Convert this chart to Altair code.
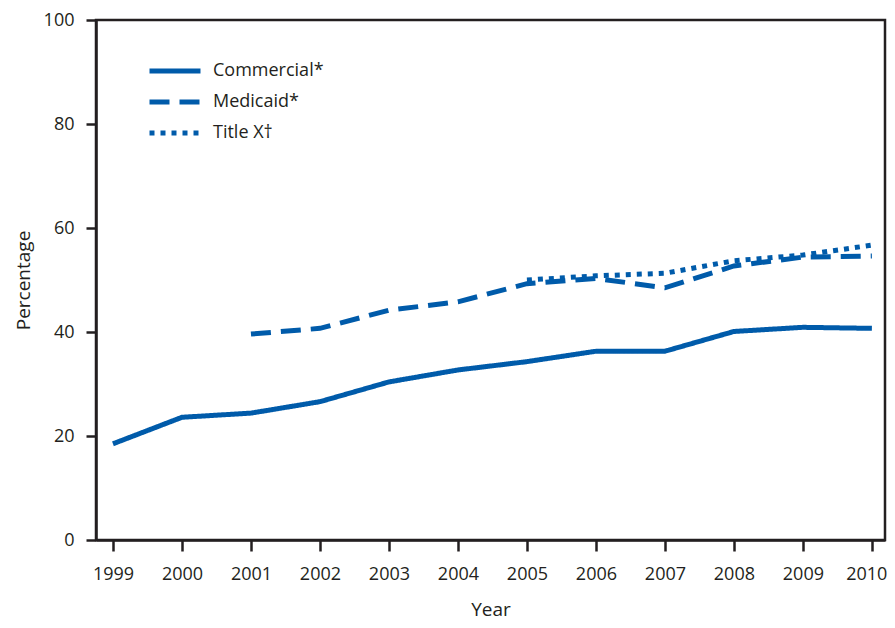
import altair as alt
import pandas as pd

years = list(range(1999, 2011))
commercial = [18.5, 23.6, 24.4, 26.6, 30.4, 32.7, 34.3, 36.3, 36.3, 40.1, 40.9, 40.7]
medicaid = [None, None, 39.6, 40.7, 44.2, 45.8, 49.3, 50.3, 48.5, 52.7, 54.4, 54.6]
title_x = [None, None, None, None, None, None, 50.0, 50.8, 51.3, 53.7, 54.8, 56.7]

series_names = ["Commercial*", "Medicaid*", "Title X\u2020"]
series_values = [commercial, medicaid, title_x]
dashes = [[1, 0], [20, 10], [5, 6]]

rows = []
for name, vals in zip(series_names, series_values):
    for yr, v in zip(years, vals):
        if v is not None:
            rows.append({"Year": yr, "Percentage": v, "Series": name})
df = pd.DataFrame(rows)

BLUE = "#005BAA"
DARK = "#231f20"
FONT = "Open Sans"

chart = alt.Chart(df).mark_line(strokeWidth=5, color=BLUE).encode(
    x=alt.X("Year:Q",
            scale=alt.Scale(domain=[1998.754, 2010.19], nice=False, zero=False),
            axis=alt.Axis(values=years, format="d", title="Year", grid=False,
                          tickSize=11, tickWidth=2.5, domainWidth=2.5,
                          domainColor=DARK, tickColor=DARK, labelPadding=14,
                          labelFlush=15, labelFlushOffset=15,
                          titlePadding=17)),
    y=alt.Y("Percentage:Q",
            scale=alt.Scale(domain=[0, 100], nice=False),
            axis=alt.Axis(values=[0, 20, 40, 60, 80, 100], title="Percentage", grid=False,
                          tickSize=10, tickWidth=2.5, domainWidth=2.5,
                          domainColor=DARK, tickColor=DARK, labelPadding=12,
                          titlePadding=10)),
    strokeDash=alt.StrokeDash("Series:N",
                              scale=alt.Scale(domain=series_names, range=dashes),
                              legend=alt.Legend(title=None, orient="none",
                                                legendX=51, legendY=38,
                                                symbolType="stroke",
                                                symbolSize=2601,
                                                symbolStrokeWidth=5,
                                                symbolStrokeColor=BLUE,
                                                clipHeight=26, rowPadding=5,
                                                labelFontSize=18, labelFont=FONT,
                                                labelColor=DARK, labelOffset=10)),
    detail="Series:N",
).properties(
    width=789, height=520,
    autosize=alt.AutoSizeParams(type="none"),
    padding={"left": 88, "top": 12, "right": 2, "bottom": 80},
).configure_view(
    stroke=DARK, strokeWidth=2.5
).configure_axis(
    labelFont=FONT, labelFontSize=18, labelColor=DARK,
    titleFont=FONT, titleFontSize=19, titleColor=DARK, titleFontWeight="normal",
)

chart.save("out.html", embed_options={"renderer": "svg", "actions": False})
